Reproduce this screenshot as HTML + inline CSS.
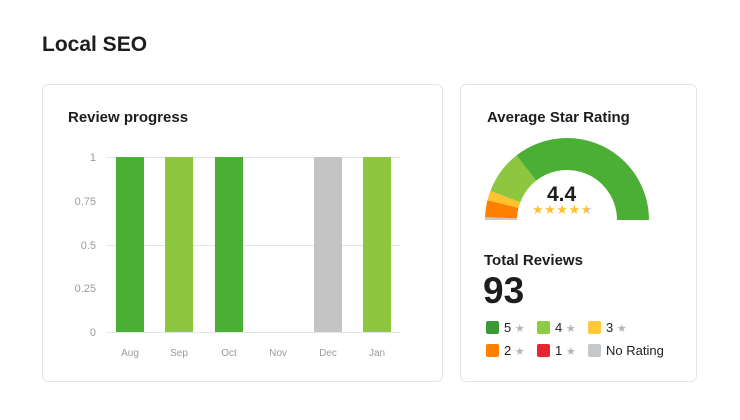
<!DOCTYPE html>
<html><head><style>
body{margin:0;width:740px;height:420px;background:#fff;font-family:"Liberation Sans",sans-serif;position:relative;overflow:hidden;color:#1d1d1f}
.card{position:absolute;border:1px solid #e3e5e8;border-radius:6px;background:#fff}
.t{position:absolute;font-weight:bold}
.sw{position:absolute;width:13px;height:13px;border-radius:2px}
.lb{position:absolute;font-size:13px;color:#222}
.st{color:#b5b5b5;font-size:11px}
</style></head><body>
<div class="t" style="left:42px;top:33px;font-size:21px">Local SEO</div>
<div class="card" style="left:42px;top:84px;width:399px;height:296px"></div>
<div class="card" style="left:460px;top:84px;width:235px;height:296px"></div>
<div class="t" style="left:68px;top:109px;font-size:15px">Review progress</div>
<svg style="position:absolute;left:0;top:0" width="740" height="420">
<g stroke="#dfe8e6" stroke-width="1">
<line x1="106" x2="400" y1="157.5" y2="157.5"/><line x1="106" x2="400" y1="245.5" y2="245.5"/><line x1="106" x2="400" y1="332.5" y2="332.5"/>
</g>
<g font-size="11" fill="#9a9a9a" text-anchor="end" font-family="Liberation Sans">
<text x="96" y="161">1</text><text x="96" y="205">0.75</text><text x="96" y="249">0.5</text><text x="96" y="292">0.25</text><text x="96" y="336">0</text>
</g>
<g font-size="10" fill="#9a9a9a" text-anchor="middle" font-family="Liberation Sans">
<text x="130" y="356">Aug</text><text x="179" y="356">Sep</text><text x="229" y="356">Oct</text><text x="278" y="356">Nov</text><text x="328" y="356">Dec</text><text x="377" y="356">Jan</text>
</g>
<rect x="116" y="157" width="28" height="175" fill="#4caf35"/>
<rect x="165" y="157" width="28" height="175" fill="#8dc63f"/>
<rect x="215" y="157" width="28" height="175" fill="#4caf35"/>
<rect x="314" y="157" width="28" height="175" fill="#c4c4c4"/>
<rect x="363" y="157" width="28" height="175" fill="#8dc63f"/>
<path d="M485,220 A82,82 0 0 1 485.05,217.1 L517.03,218.3 A50,50 0 0 0 517,220Z" fill="#c8c8c8"/>
<path d="M485.05,217.1 A82,82 0 0 1 487.5,200.2 L518.5,207.9 A50,50 0 0 0 517.03,218.3Z" fill="#ff8000"/>
<path d="M487.5,200.2 A82,82 0 0 1 490.5,190.9 L520.4,202.2 A50,50 0 0 0 518.5,207.9Z" fill="#ffc230"/>
<path d="M490.5,190.9 A82,82 0 0 1 516.5,155.4 L536.2,180.6 A50,50 0 0 0 520.4,202.2Z" fill="#8dc63f"/>
<path d="M516.5,155.4 A82,82 0 0 1 649,220 L617,220 A50,50 0 0 0 536.2,180.6Z" fill="#4caf35"/>
</svg>
<div class="t" style="left:487px;top:109px;font-size:15px">Average Star Rating</div>
<div class="t" style="left:547px;top:183px;font-size:21px">4.4</div>
<div style="position:absolute;left:532px;top:202px;font-size:13px;letter-spacing:0.5px;color:#ffc230">★★★★<span style="background:linear-gradient(90deg,#ffc230 50%,#c0c0c0 50%);-webkit-background-clip:text;color:transparent">★</span></div>
<div class="t" style="left:484px;top:252px;font-size:15px">Total Reviews</div>
<div class="t" style="left:483px;top:270px;font-size:37px">93</div>
<div class="sw" style="left:486px;top:321px;background:#3a9a35"></div><div class="lb" style="left:504px;top:320px">5 <span class="st">★</span></div>
<div class="sw" style="left:537px;top:321px;background:#8dcc45"></div><div class="lb" style="left:555px;top:320px">4 <span class="st">★</span></div>
<div class="sw" style="left:588px;top:321px;background:#ffc83a"></div><div class="lb" style="left:606px;top:320px">3 <span class="st">★</span></div>
<div class="sw" style="left:486px;top:344px;background:#ff8000"></div><div class="lb" style="left:504px;top:343px">2 <span class="st">★</span></div>
<div class="sw" style="left:537px;top:344px;background:#e8262f"></div><div class="lb" style="left:555px;top:343px">1 <span class="st">★</span></div>
<div class="sw" style="left:588px;top:344px;background:#c4c8ca"></div><div class="lb" style="left:606px;top:343px">No Rating</div>
</body></html>
